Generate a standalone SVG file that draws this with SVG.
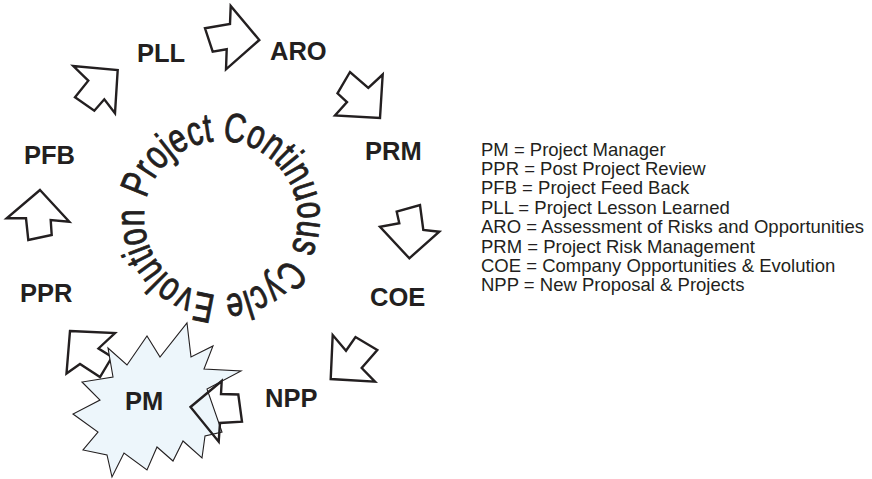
<svg xmlns="http://www.w3.org/2000/svg" width="872" height="479" viewBox="0 0 872 479">
<style>
.arrow{fill:#fff;stroke:#231f20;stroke-width:2.4;stroke-linejoin:miter}
.lbl{font-family:"Liberation Sans",Arial,sans-serif;font-weight:bold;font-size:25.5px;fill:#231f20}
.leg{font-family:"Liberation Sans",Arial,sans-serif;font-size:18.5px;fill:#231f20}
.ring{font-family:"Liberation Sans",Arial,sans-serif;font-size:41px;fill:#231f20;stroke:#231f20;stroke-width:0.9}
</style>
<defs>
<path id="ringPath" d="M146.45,198.72 A77,77 0 1,1 295.55,237.28 A77,77 0 1,1 146.45,198.72"/>
</defs>
<rect width="872" height="479" fill="#fff"/>

<g id="cycle-title">
<text class="ring"><textPath href="#ringPath" textLength="472" lengthAdjust="spacingAndGlyphs">Project Continuous Cycle Evolution</textPath></text>
</g>

<g id="connectors">
<polygon class="arrow" points="259.3,40 226,69.3 226.7,49.3 212.7,51.7 205,28.3 230,24 230.7,6"/>
<polygon class="arrow" points="380,118 382.7,74.5 368.3,88 350,72 337.5,93.3 347,102 335,115.5"/>
<polygon class="arrow" points="409.3,258.3 380,226.7 399.3,223.3 396.7,211.7 420,205 423.3,230 439.3,231.7"/>
<polygon class="arrow" points="330.7,379 332.7,335 346,350.7 355.5,337 377.3,350 361.7,368 375,381.7"/>
<polygon class="arrow" points="70,331 115,333 98.5,348.5 112,357 100,377 80,364 66.5,373.5"/>
<polygon class="arrow" points="40,190 69.3,221.7 50.7,220 51.7,235 28.3,240 26,218.3 6.7,218.3"/>
<polygon class="arrow" points="117.7,70 115,113.3 104.3,99.3 94.3,110.7 75,97.3 88.3,80.7 73.3,66"/>
</g>

<g id="PM">
<polygon fill="#edf6fb" stroke="#231f20" stroke-width="1.1" stroke-linejoin="miter" points="187,323 191,357 213,346 204,369 241,371 207,389 222,432 205,436 202,458 183,441 173,461 157,447 147,470 124,453 112,477 107,455 83,450 98,432 73,414 100,400 82,382 113,377 108,348 127,365 147,336 160,357"/>
<text class="lbl" x="125" y="410">PM</text>
</g>
<polygon class="arrow" style="fill:none" points="190.5,407 221.7,381 221,394 238.3,394.5 242,421.7 220,423 218.7,441.7"/>

<g id="PLL"><text class="lbl" x="137" y="62">PLL</text></g>
<g id="ARO"><text class="lbl" x="270" y="60">ARO</text></g>
<g id="PRM"><text class="lbl" x="365" y="160">PRM</text></g>
<g id="PFB"><text class="lbl" x="24" y="164">PFB</text></g>
<g id="PPR"><text class="lbl" x="20" y="302">PPR</text></g>
<g id="COE"><text class="lbl" x="370" y="306">COE</text></g>
<g id="NPP"><text class="lbl" x="265" y="407">NPP</text></g>

<g id="legend">
<text class="leg" x="481" y="155.5">PM = Project Manager</text>
<text class="leg" x="481" y="174.9">PPR = Post Project Review</text>
<text class="leg" x="481" y="194.3">PFB = Project Feed Back</text>
<text class="leg" x="481" y="213.7">PLL = Project Lesson Learned</text>
<text class="leg" x="481" y="233.1">ARO = Assessment of Risks and Opportunities</text>
<text class="leg" x="481" y="252.5">PRM = Project Risk Management</text>
<text class="leg" x="481" y="271.9">COE = Company Opportunities &amp; Evolution</text>
<text class="leg" x="481" y="291.3">NPP = New Proposal &amp; Projects</text>
</g>
</svg>
